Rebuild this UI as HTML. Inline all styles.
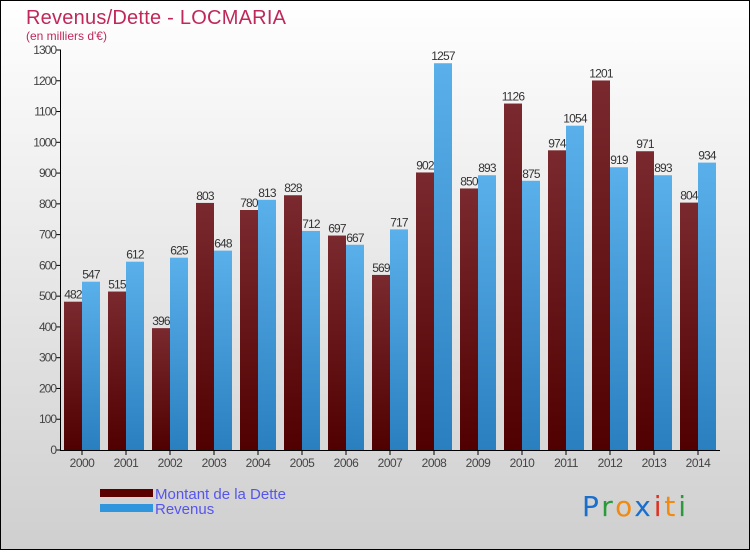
<!DOCTYPE html>
<html><head><meta charset="utf-8"><style>
html,body{margin:0;padding:0}
body{width:750px;height:550px;overflow:hidden;font-family:"Liberation Sans",sans-serif}
</style></head><body>
<svg width="750" height="550" viewBox="0 0 750 550">
<defs>
<linearGradient id="bg" x1="0" y1="0" x2="0" y2="1"><stop offset="0" stop-color="#ffffff"/><stop offset="1" stop-color="#cfcfcf"/></linearGradient>
<linearGradient id="gd" x1="0" y1="0" x2="0" y2="1"><stop offset="0" stop-color="#7a2a2e"/><stop offset="1" stop-color="#500000"/></linearGradient>
<linearGradient id="gr" x1="0" y1="0" x2="0" y2="1"><stop offset="0" stop-color="#5ab0ea"/><stop offset="1" stop-color="#2a7fbf"/></linearGradient>
</defs>
<rect x="0.5" y="0.5" width="749" height="549" fill="url(#bg)" stroke="#000"/>
<text x="26" y="24" font-size="20" fill="#c0285a" textLength="260">Revenus/Dette - LOCMARIA</text>
<text x="26" y="40" font-size="12" fill="#c0285a">(en milliers d'€)</text>
<g id="plot"></g>
<g>
<rect x="100" y="489" width="53" height="8" fill="#5a0000"/>
<text x="155" y="499" font-size="15" fill="#5555ee">Montant de la Dette</text>
<rect x="100" y="504" width="53" height="8" fill="#2f96de"/>
<text x="155" y="514" font-size="15" fill="#5555ee">Revenus</text>
</g>
<g font-size="28" font-family="DejaVu Sans, sans-serif">
<text x="582" y="516" textLength="104"><tspan fill="#1a6fcc">P</tspan><tspan fill="#2a9a3a">r</tspan><tspan fill="#f08a10">o</tspan><tspan fill="#1a6fcc">x</tspan><tspan fill="#e03020">i</tspan><tspan fill="#f08a10">t</tspan><tspan fill="#2a9a3a">i</tspan></text>
</g>
</svg>
<script>
const years=["2000","2001","2002","2003","2004","2005","2006","2007","2008","2009","2010","2011","2012","2013","2014"];
const dette=[482,515,396,803,780,828,697,569,902,850,1126,974,1201,971,804];
const revenus=[547,612,625,648,813,712,667,717,1257,893,875,1054,919,893,934];
const yTicks=[0,100,200,300,400,500,600,700,800,900,1000,1100,1200,1300];
const NS="http://www.w3.org/2000/svg";
const plot=document.getElementById('plot');
const y=v=>450-v*400/1300;
const gx=i=>64+44*i;
function mk(t,a){const e=document.createElementNS(NS,t);for(const k in a)e.setAttribute(k,a[k]);plot.appendChild(e);return e;}
yTicks.forEach(v=>{
 const l=mk('line',{x1:56,x2:61,y1:y(v),y2:y(v),stroke:'#000'});
 
 
 const t=mk('text',{x:56,y:y(v)+4,'text-anchor':'end','font-size':12,fill:'#444','letter-spacing':'-1'});
 t.textContent=v;
 
 
});
years.forEach((yr,i)=>{
 const b1=mk('rect',{x:gx(i),y:y(dette[i]),width:18,height:450-y(dette[i]),fill:'url(#gd)'});
 
 
 const b2=mk('rect',{x:gx(i)+18,y:y(revenus[i]),width:18,height:450-y(revenus[i]),fill:'url(#gr)'});
 
 
 const t1=mk('text',{x:gx(i)+9,y:y(dette[i])-3,'text-anchor':'middle','font-size':12,fill:'#333','letter-spacing':'-0.8'});
 t1.textContent=dette[i];
 
 
 const t2=mk('text',{x:gx(i)+27,y:y(revenus[i])-3,'text-anchor':'middle','font-size':12,fill:'#333','letter-spacing':'-0.8'});
 t2.textContent=revenus[i];
 
 
 const tk=mk('line',{x1:gx(i)+18,x2:gx(i)+18,y1:450,y2:455,stroke:'#000'});
 
 
 const xl=mk('text',{x:gx(i)+18,y:467,'text-anchor':'middle','font-size':12,fill:'#444','letter-spacing':'-0.5'});
 xl.textContent=yr;
 
 
});
const ya=mk('line',{x1:60.5,x2:60.5,y1:50,y2:450,stroke:'#000'});


const xa=mk('line',{x1:60,x2:720,y1:450.5,y2:450.5,stroke:'#000'});


</script>
</body></html>
